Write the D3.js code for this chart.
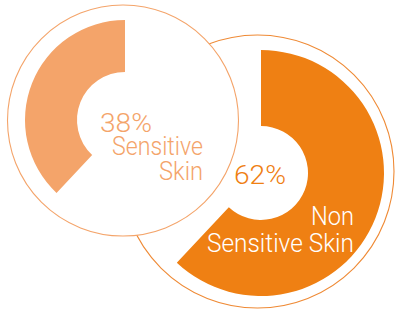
<!DOCTYPE html>
<html>
<head>
    <script src="https://d3js.org/d3.v7.min.js"></script>
    <style>
        body { margin: 0; background: #fff; }
        text { font-family: Roboto, "Liberation Sans", sans-serif; font-weight: 300; }
    </style>
</head>
<body>
    <svg width="395" height="311"></svg>
    <script>
        const labels = ["Sensitive Skin", "Non Sensitive Skin"];
        const values = [38, 62];
        const colors = ["#f4a46a", "#ef8013"];

        const svg = d3.select("svg");

        // percent -> angle; left donut runs counter-clockwise
        const angle = d3.scaleLinear().domain([0, 100]).range([0, 2 * Math.PI]);

        const donuts = [
            { ring: [123, 120.5, 115.5], c: [125, 120], outer: 100, inner: 48, dir: -1,
              stroke: "#f4a46a", text: "#f4a46a" },
            { ring: [257.5, 171.5, 136.5], c: [261, 173], outer: 123, inner: 47, dir: 1,
              stroke: "#ef8a35", text: "#fff" }
        ];

        const arc = d3.arc();

        // draw right one first so the left circle sits on top
        [1, 0].forEach(i => {
            const d = donuts[i];
            svg.append("circle")
                .attr("cx", d.ring[0]).attr("cy", d.ring[1]).attr("r", d.ring[2])
                .attr("fill", "#fff")
                .attr("stroke", d.stroke)
                .attr("stroke-width", 1.1);
            svg.append("path")
                .attr("transform", `translate(${d.c[0]},${d.c[1]})`)
                .attr("fill", colors[i])
                .attr("d", arc({
                    innerRadius: d.inner,
                    outerRadius: d.outer,
                    startAngle: 0,
                    endAngle: d.dir * angle(values[i])
                }));
        });

        // label lines: [text, right x, baseline y, width, colour]
        const lines = [
            [values[0] + "%", 152, 132, 52, donuts[0].text],
            ["Sensitive", 203, 155, 91, donuts[0].text],
            ["Skin", 203, 180, 44, donuts[0].text],
            [values[1] + "%", 286, 184, 52, colors[1]],
            ["Non", 354, 225, 43, donuts[1].text],
            ["Sensitive Skin", 354, 252, 147, donuts[1].text]
        ];

        svg.selectAll("text.lbl")
            .data(lines)
            .enter().append("text")
            .attr("class", "lbl")
            .attr("x", d => d[1] - d[3])
            .attr("y", d => d[2])
            .attr("font-size", 26)
            .attr("textLength", d => d[3])
            .attr("lengthAdjust", "spacingAndGlyphs")
            .attr("fill", d => d[4])
            .text(d => d[0]);
    </script>
</body>
</html>
